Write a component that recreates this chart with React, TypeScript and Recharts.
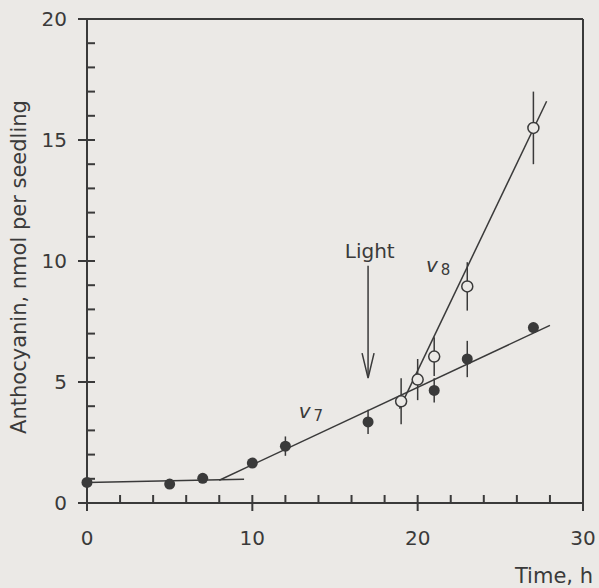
import React from 'react'
import {
  ComposedChart, XAxis, YAxis, Line, Scatter, ErrorBar, ReferenceLine, ReferenceDot, Label,
} from 'recharts'

// dark-grown seedlings (filled circles)
const darkTimes = [0, 5, 7, 10, 12, 17, 21, 23, 27]
const darkValues = [0.85, 0.78, 1.02, 1.65, 2.35, 3.35, 4.65, 5.95, 7.25]
const darkErrors = [0, 0, 0, 0, 0.4, 0.5, 0.5, 0.75, 0.2]

// after light (open circles)
const lightTimes = [19, 20, 21, 23, 27]
const lightValues = [4.2, 5.1, 6.05, 8.95, 15.5]
const lightErrors = [0.95, 0.85, 0.8, 1.0, 1.5]

// fitted lines (end points)
const lagFit = [{ x: 0, y: 0.85 }, { x: 9.5, y: 0.98 }]
const v7Fit = [{ x: 8, y: 0.94 }, { x: 28, y: 7.34 }]
const v8Fit = [{ x: 18.9, y: 3.9 }, { x: 27.8, y: 16.6 }]

const xTicks = [0, 2, 4, 6, 8, 10, 12, 14, 16, 18, 20, 22, 24, 26, 28, 30]
const yTicks = Array.from({ length: 21 }, (_, i) => i)

const darkData = darkTimes.map((x, i) => ({ x, y: darkValues[i], err: darkErrors[i] }))
const lightData = lightTimes.map((x, i) => ({ x, y: lightValues[i], err: lightErrors[i] }))

const INK = '#3a3a3a'
const PAPER = '#ebe9e6'
const FONT = '"DejaVu Sans", sans-serif'

const YTick = (props: any) => {
  const { x, y, payload } = props
  const major = payload.value % 5 === 0
  return (
    <g>
      <line x1={major ? x - 9 : x} x2={x + 8} y1={y} y2={y} stroke={INK} strokeWidth={2} />
      {major && (
        <text x={x - 20} y={y} textAnchor="end" dominantBaseline="central" fill={INK} fontSize={20} fontFamily={FONT}>
          {payload.value}
        </text>
      )}
    </g>
  )
}

const XTick = (props: any) => {
  const { x, y, payload } = props
  const major = payload.value % 10 === 0
  return (
    <g>
      <line x1={x} x2={x} y1={y - 8} y2={major ? y + 8 : y} stroke={INK} strokeWidth={2} />
      {major && (
        <text x={x} y={y + 35} textAnchor="middle" dominantBaseline="central" fill={INK} fontSize={20} fontFamily={FONT}>
          {payload.value}
        </text>
      )}
    </g>
  )
}

const vLabel = (sub: string) => (p: any) => (
  <text x={p.cx} y={p.cy} fill={INK} fontFamily={FONT} dominantBaseline="central">
    <tspan fontStyle="italic" fontSize={20}>v</tspan>
    <tspan fontSize={15} dx={3} dy={5}>{sub}</tspan>
  </text>
)

export default function App() {
  return (
    <div style={{ position: 'absolute', left: 0, top: 0, width: 599, height: 588, background: PAPER, overflow: 'hidden' }}>
      <ComposedChart width={599} height={588} margin={{ top: 19, right: 16, left: 0, bottom: 0 }}>
        <XAxis
          type="number" dataKey="x" domain={[0, 30]} ticks={xTicks} interval={0}
          tickSize={0} tickMargin={0} tickLine={false} tick={<XTick />}
          axisLine={{ stroke: INK, strokeWidth: 2 }} height={85}
        >
          <Label
            content={(p: any) => (
              <text x={p.viewBox.x + p.viewBox.width + 10} y={p.viewBox.y + 80} textAnchor="end" fill={INK} fontSize={21} fontFamily={FONT}>
                Time, h
              </text>
            )}
          />
        </XAxis>
        <YAxis
          type="number" dataKey="y" domain={[0, 20]} ticks={yTicks} interval={0}
          tickSize={0} tickMargin={0} tickLine={false} tick={<YTick />}
          axisLine={{ stroke: INK, strokeWidth: 2 }} width={87}
        >
          <Label
            content={(p: any) => {
              const cy = p.viewBox.y + p.viewBox.height / 2 + 6
              return (
                <text x={19} y={cy} transform={`rotate(-90 19 ${cy})`} textAnchor="middle" dominantBaseline="central" fill={INK} fontSize={21} fontFamily={FONT}>
                  Anthocyanin, nmol per seedling
                </text>
              )
            }}
          />
        </YAxis>
        <ReferenceLine y={20} stroke={INK} strokeWidth={2} />
        <ReferenceLine x={30} stroke={INK} strokeWidth={2} />

        <Line data={lagFit} dataKey="y" stroke={INK} strokeWidth={1.5} dot={false} isAnimationActive={false} />
        <Line data={v7Fit} dataKey="y" stroke={INK} strokeWidth={1.5} dot={false} isAnimationActive={false} />
        <Line data={v8Fit} dataKey="y" stroke={INK} strokeWidth={1.5} dot={false} isAnimationActive={false} />

        <ReferenceLine segment={[{ x: 17, y: 9.8 }, { x: 17, y: 5.2 }]} stroke={INK} strokeWidth={1.5} />
        <ReferenceDot
          x={17} y={5.16}
          shape={(p: any) => (
            <path d={`M${p.cx - 6} ${p.cy - 25} L${p.cx} ${p.cy} L${p.cx + 6} ${p.cy - 25}`} fill="none" stroke={INK} strokeWidth={1.5} />
          )}
        />
        <ReferenceDot
          x={17.1} y={10.4}
          shape={(p: any) => (
            <text x={p.cx} y={p.cy} textAnchor="middle" dominantBaseline="central" fill={INK} fontSize={20} fontFamily={FONT}>
              Light
            </text>
          )}
        />
        <ReferenceDot x={20.5} y={9.85} shape={vLabel('8')} />
        <ReferenceDot x={12.8} y={3.8} shape={vLabel('7')} />

        <Scatter data={darkData} fill={INK} stroke={INK} isAnimationActive={false}
          shape={(p: any) => <circle cx={p.cx} cy={p.cy} r={5.5} fill={INK} />}>
          <ErrorBar dataKey="err" direction="y" width={0} stroke={INK} strokeWidth={1.5} />
        </Scatter>
        <Scatter data={lightData} fill={PAPER} stroke={INK} isAnimationActive={false}
          shape={(p: any) => <circle cx={p.cx} cy={p.cy} r={5.5} fill={PAPER} stroke={INK} strokeWidth={1.5} />}>
          <ErrorBar dataKey="err" direction="y" width={0} stroke={INK} strokeWidth={1.5} />
        </Scatter>
      </ComposedChart>
    </div>
  )
}
